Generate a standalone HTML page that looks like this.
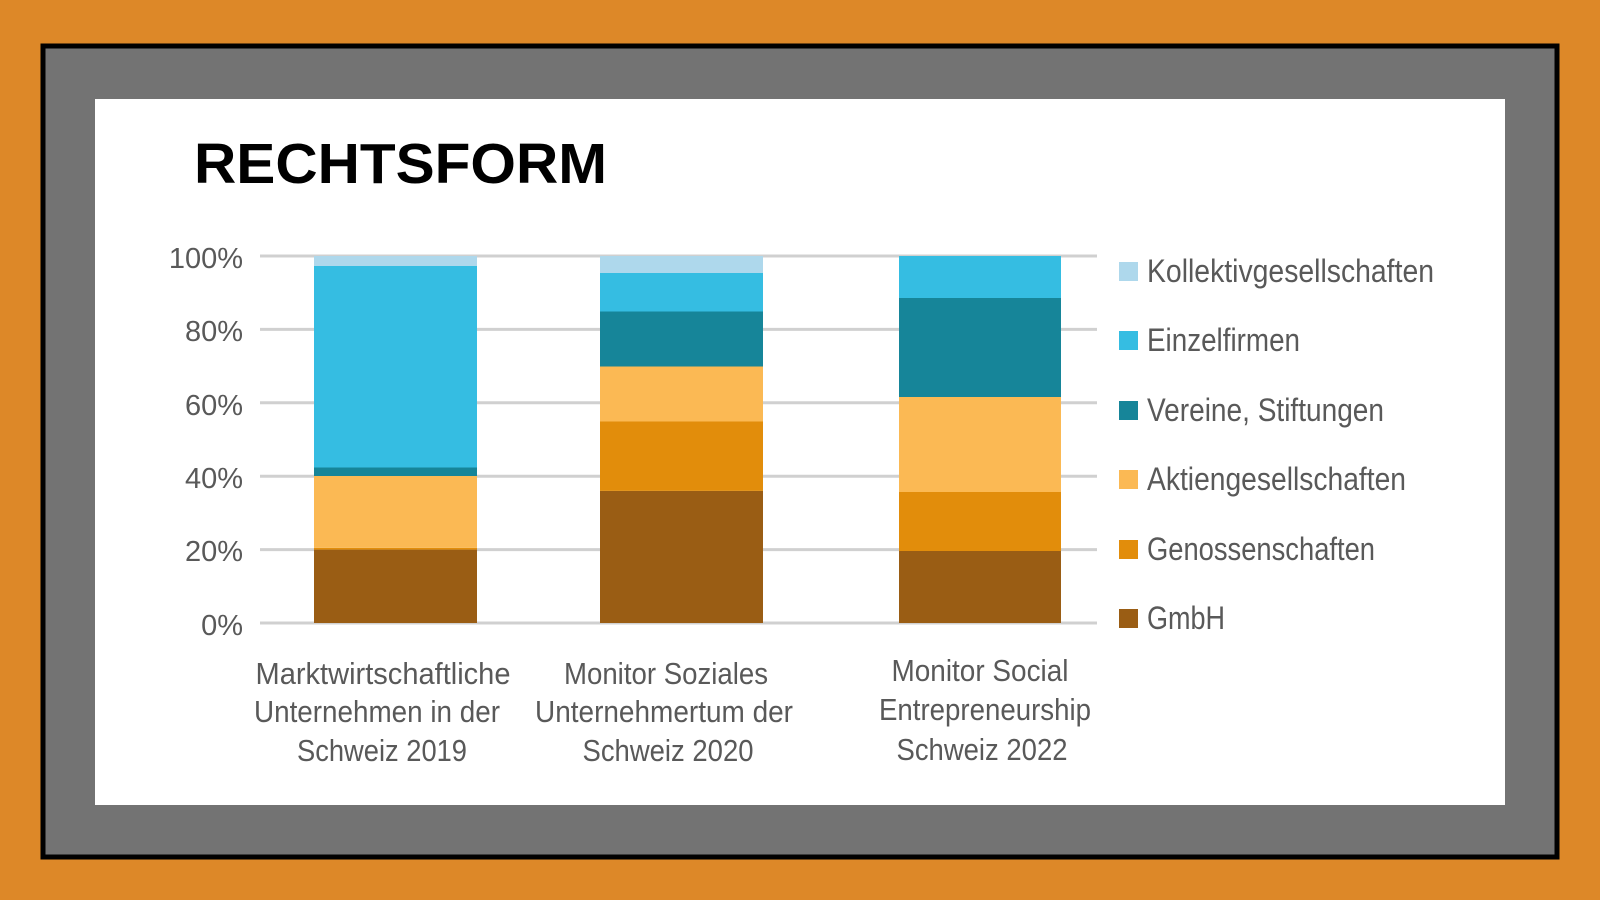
<!DOCTYPE html>
<html><head><meta charset="utf-8"><style>
html,body{margin:0;padding:0;background:#dd8828;}
svg{display:block}
text{font-family:"Liberation Sans",sans-serif;fill:#595959}
</style></head><body>
<svg width="1600" height="900" viewBox="0 0 1600 900">
<rect x="0" y="0" width="1600" height="900" fill="#dd8828"/>
<rect x="43" y="46" width="1514" height="811" fill="#737373" stroke="#000" stroke-width="5"/>
<rect x="95" y="99" width="1410" height="706" fill="#fff"/>
<text x="194" y="183" textLength="413" lengthAdjust="spacingAndGlyphs" style="font-weight:bold;font-size:57px;fill:#000">RECHTSFORM</text>
<g stroke="#d0d0d0" stroke-width="3">
<line x1="260" x2="1097" y1="256" y2="256"/>
<line x1="260" x2="1097" y1="329.4" y2="329.4"/>
<line x1="260" x2="1097" y1="402.8" y2="402.8"/>
<line x1="260" x2="1097" y1="476.2" y2="476.2"/>
<line x1="260" x2="1097" y1="549.6" y2="549.6"/>
<line x1="260" x2="1097" y1="623" y2="623"/>
</g>
<g font-size="29" text-anchor="end">
<text x="243" y="268">100%</text>
<text x="243" y="341">80%</text>
<text x="243" y="415">60%</text>
<text x="243" y="488">40%</text>
<text x="243" y="561">20%</text>
<text x="243" y="635">0%</text>
</g>
<rect x="314" y="549.6" width="163" height="73.4" fill="#9a5d14"/>
<rect x="314" y="547.8" width="163" height="1.8" fill="#e28d0b"/>
<rect x="314" y="476" width="163" height="71.8" fill="#fbb954"/>
<rect x="314" y="467.5" width="163" height="8.5" fill="#168599"/>
<rect x="314" y="266" width="163" height="201.5" fill="#35bde2"/>
<rect x="314" y="256" width="163" height="10" fill="#aed8ec"/>
<rect x="600" y="490.9" width="163" height="132.1" fill="#9a5d14"/>
<rect x="600" y="421.5" width="163" height="69.4" fill="#e28d0b"/>
<rect x="600" y="366.5" width="163" height="55" fill="#fbb954"/>
<rect x="600" y="311.5" width="163" height="55" fill="#168599"/>
<rect x="600" y="273" width="163" height="38.5" fill="#35bde2"/>
<rect x="600" y="256" width="163" height="17" fill="#aed8ec"/>
<rect x="899" y="551" width="162" height="72" fill="#9a5d14"/>
<rect x="899" y="492" width="162" height="59" fill="#e28d0b"/>
<rect x="899" y="397" width="162" height="95" fill="#fbb954"/>
<rect x="899" y="298" width="162" height="99" fill="#168599"/>
<rect x="899" y="256" width="162" height="42" fill="#35bde2"/>
<g font-size="32" lengthAdjust="spacingAndGlyphs">
<rect x="1119" y="262" width="19" height="19" fill="#aed8ec"/><text x="1147" y="282" textLength="287" lengthAdjust="spacingAndGlyphs">Kollektivgesellschaften</text>
<rect x="1119" y="331" width="19" height="19" fill="#35bde2"/><text x="1147" y="351" textLength="153" lengthAdjust="spacingAndGlyphs">Einzelfirmen</text>
<rect x="1119" y="401" width="19" height="19" fill="#168599"/><text x="1147" y="421" textLength="237" lengthAdjust="spacingAndGlyphs">Vereine, Stiftungen</text>
<rect x="1119" y="470" width="19" height="19" fill="#fbb954"/><text x="1147" y="490" textLength="259" lengthAdjust="spacingAndGlyphs">Aktiengesellschaften</text>
<rect x="1119" y="540" width="19" height="19" fill="#e28d0b"/><text x="1147" y="560" textLength="228" lengthAdjust="spacingAndGlyphs">Genossenschaften</text>
<rect x="1119" y="609" width="19" height="19" fill="#9a5d14"/><text x="1147" y="629" textLength="78" lengthAdjust="spacingAndGlyphs">GmbH</text>
</g>
<g font-size="31" text-anchor="middle">
<text x="383" y="684" textLength="255" lengthAdjust="spacingAndGlyphs">Marktwirtschaftliche</text>
<text x="377" y="722" textLength="246" lengthAdjust="spacingAndGlyphs">Unternehmen in der</text>
<text x="382" y="761" textLength="170" lengthAdjust="spacingAndGlyphs">Schweiz 2019</text>
<text x="666" y="684" textLength="204" lengthAdjust="spacingAndGlyphs">Monitor Soziales</text>
<text x="664" y="722" textLength="258" lengthAdjust="spacingAndGlyphs">Unternehmertum der</text>
<text x="668" y="761" textLength="171" lengthAdjust="spacingAndGlyphs">Schweiz 2020</text>
<text x="980" y="681" textLength="177" lengthAdjust="spacingAndGlyphs">Monitor Social</text>
<text x="985" y="720" textLength="212" lengthAdjust="spacingAndGlyphs">Entrepreneurship</text>
<text x="982" y="760" textLength="171" lengthAdjust="spacingAndGlyphs">Schweiz 2022</text>
</g>
</svg>
</body></html>
